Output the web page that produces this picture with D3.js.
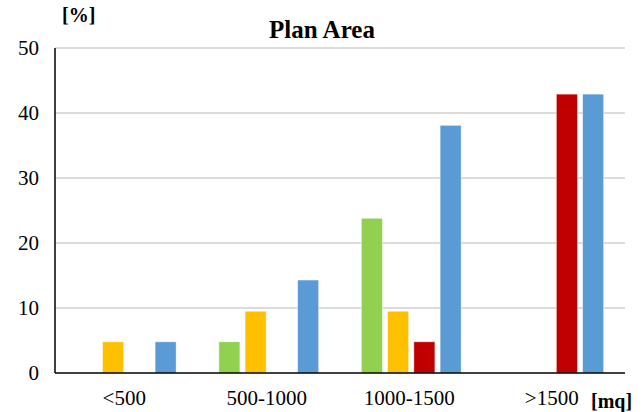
<!DOCTYPE html>
<html>
<head>
<meta charset="utf-8">
<script src="https://cdn.jsdelivr.net/npm/d3@7"></script>
<style>
  body{margin:0;background:#fff;}
  svg text{font-family:"Liberation Serif","Times New Roman",serif;fill:#000;}
</style>
</head>
<body>
<svg id="svg" width="643" height="412"></svg>
<script>
// data
const categories = ["<500","500-1000","1000-1500",">1500"];
const seriesNames = ["s1","s2","s3","s4"];
const seriesColors = ["#92D050","#FFC000","#C00000","#5B9BD5"];
const values = [
  [0,   4.8, 0,   4.8],   // <500
  [4.8, 9.5, 0,   14.3],  // 500-1000
  [23.8,9.5, 4.8, 38.1],  // 1000-1500
  [0,   0,   42.9,42.9]   // >1500
];
const yTicks = [0,10,20,30,40,50];

const svg = d3.select("#svg");
const m = {left:55, right:18, top:48, bottom:39};
const W = 643, H = 412;

const x = d3.scaleBand().domain(categories).range([m.left, W-m.right]).paddingInner(0.3).paddingOuter(0.15);
const xs = d3.scaleBand().domain(seriesNames).range([0, x.bandwidth()]).paddingInner(0.2);
const y = d3.scaleLinear().domain([0,50]).range([H-m.bottom, m.top]);

// gridlines
svg.append("g").selectAll("line").data(yTicks.filter(d=>d>0)).enter().append("line")
  .attr("x1", m.left).attr("x2", W-m.right)
  .attr("y1", d=>y(d)).attr("y2", d=>y(d))
  .attr("stroke","#d0d0d0").attr("stroke-width",1.5);

// y tick labels
svg.append("g").selectAll("text").data(yTicks).enter().append("text")
  .attr("x", 39).attr("y", d=>y(d)+7)
  .attr("text-anchor","end").style("font-size","21px")
  .text(d=>d);

// bars
const groups = svg.append("g").selectAll("g").data(values).enter().append("g")
  .attr("transform",(d,i)=>`translate(${x(categories[i])},0)`);
groups.selectAll("rect").data(d=>d.map((v,j)=>({v,j}))).enter()
  .filter(d=>d.v>0)
  .append("rect")
  .attr("x", d=>xs(seriesNames[d.j]))
  .attr("width", xs.bandwidth())
  .attr("y", d=>y(d.v))
  .attr("height", d=>y(0)-y(d.v))
  .attr("fill", d=>seriesColors[d.j])
  .attr("stroke","#ffffff").attr("stroke-opacity",0.5).attr("stroke-width",0.8);

// axes lines
svg.append("line").attr("x1",m.left).attr("x2",m.left).attr("y1",y(50)).attr("y2",y(0))
  .attr("stroke","#000").attr("stroke-width",1.5);
svg.append("line").attr("x1",m.left).attr("x2",W-m.right).attr("y1",y(0)).attr("y2",y(0))
  .attr("stroke","#000").attr("stroke-width",1.5);

// category labels
svg.append("g").selectAll("text").data(categories).enter().append("text")
  .attr("x", d=>x(d)+x.bandwidth()/2 - 2).attr("y", 405)
  .attr("text-anchor","middle").style("font-size","21px")
  .text(d=>d);

// titles
svg.append("text").attr("x",322).attr("y",38).attr("text-anchor","middle")
  .style("font-size","25px").style("font-weight","bold").text("Plan Area");
svg.append("text").attr("x",62).attr("y",22)
  .style("font-size","20px").style("font-weight","bold").text("[%]");
svg.append("text").attr("x",591).attr("y",408)
  .style("font-size","20px").style("font-weight","bold").text("[mq]");
</script>
</body>
</html>
